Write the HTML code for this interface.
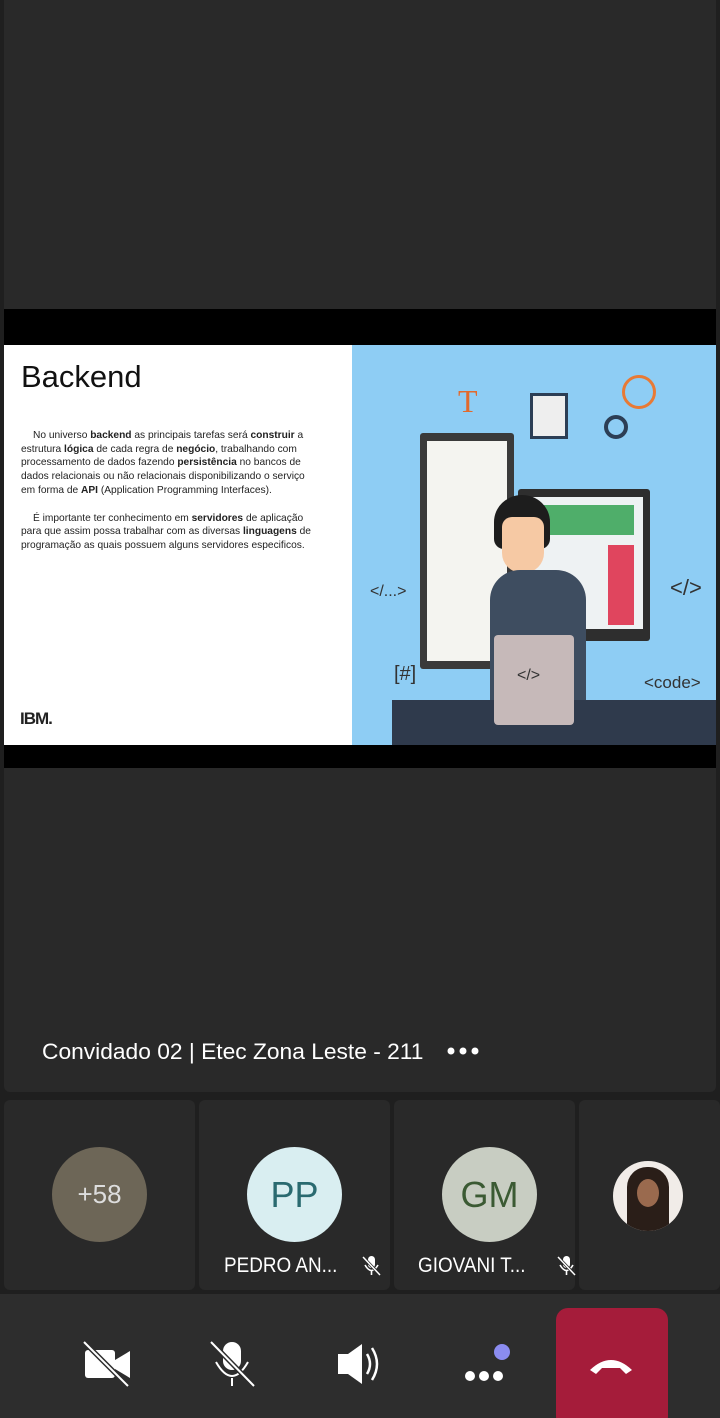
<!DOCTYPE html>
<html><head><meta charset="utf-8"><style>
body{margin:0;width:720px;height:1418px;background:#1f1f1f;position:relative;overflow:hidden;font-family:"Liberation Sans",sans-serif}
.a{position:absolute}
.stage{left:4px;top:0;width:712px;height:1092px;background:#292929;border-radius:0 0 6px 6px}
.tile{top:1100px;height:190px;background:#292929;border-radius:6px}
.av{border-radius:50%;width:95px;height:95px;top:1147px;text-align:center;line-height:95px;font-size:36px}
.nm{top:1254px;color:#fff;font-size:21px;transform:scaleX(.9);transform-origin:left}
.slide p{margin:0 0 14px;text-indent:12px;font-size:10.2px;line-height:13.7px;color:#222}
</style></head><body>
<div class="a stage"></div>
<div class="a" style="left:4px;top:309px;width:712px;height:459px;background:#000"></div>
<div class="a slide" style="left:4px;top:345px;width:348px;height:400px;background:#fff">
 <div class="a" style="left:17px;top:14px;font-size:31px;color:#111">Backend</div>
 <div class="a" style="left:17px;top:84px;width:300px">
 <p>No universo <b>backend</b> as principais tarefas será <b>construir</b> a estrutura <b>lógica</b> de cada regra de <b>negócio</b>, trabalhando com processamento de dados fazendo <b>persistência</b> no bancos de dados relacionais ou não relacionais disponibilizando o serviço em forma de <b>API</b> (Application Programming Interfaces).</p>
 <p>É importante ter conhecimento em <b>servidores</b> de aplicação para que assim possa trabalhar com as diversas <b>linguagens</b> de programação as quais possuem alguns servidores especificos.</p>
 </div>
 <div class="a" style="left:16px;top:364px;font-size:17px;font-weight:bold;color:#222;letter-spacing:-1px">IBM.</div>
</div>
<div class="a" style="left:352px;top:345px;width:364px;height:400px;background:#8ecdf4;overflow:hidden">
 <div class="a" style="left:40px;top:355px;width:330px;height:50px;background:#2f3a4c"></div>
 <div class="a" style="left:68px;top:88px;width:94px;height:236px;background:#3a3a3a;border-radius:3px"></div>
 <div class="a" style="left:75px;top:96px;width:80px;height:220px;background:#f4f4f0"></div>
 <div class="a" style="left:166px;top:144px;width:132px;height:152px;background:#2e2e2e;border-radius:3px"></div>
 <div class="a" style="left:173px;top:152px;width:118px;height:132px;background:#eef2f3"></div>
 <div class="a" style="left:190px;top:160px;width:92px;height:30px;background:#4fae6a"></div>
 <div class="a" style="left:256px;top:200px;width:26px;height:80px;background:#e0455e"></div>
 <div class="a" style="left:142px;top:150px;width:56px;height:54px;background:#1d1d1d;border-radius:50% 50% 10px 10px"></div>
 <div class="a" style="left:150px;top:172px;width:42px;height:56px;background:#f6c9a4;border-radius:10px 10px 20px 20px"></div>
 <div class="a" style="left:138px;top:225px;width:96px;height:130px;background:#3e4d60;border-radius:30px 30px 0 0"></div>
 <div class="a" style="left:142px;top:290px;width:80px;height:90px;background:#c6b9b9;border-radius:4px"></div>
 <div class="a" style="left:165px;top:322px;font-size:16px;color:#333">&lt;/&gt;</div>
 <div class="a" style="left:18px;top:238px;font-size:16px;color:#333">&lt;/...&gt;</div>
 <div class="a" style="left:318px;top:230px;font-size:22px;color:#333">&lt;/&gt;</div>
 <div class="a" style="left:292px;top:328px;font-size:17px;color:#333">&lt;code&gt;</div>
 <div class="a" style="left:42px;top:318px;font-size:20px;color:#333">[#]</div>
 <div class="a" style="left:106px;top:38px;font-size:32px;color:#e26a2c;font-family:'Liberation Serif',serif">T</div>
 <div class="a" style="left:178px;top:48px;width:32px;height:40px;border:3px solid #2c3e55;background:#eee"></div>
 <div class="a" style="left:270px;top:30px;width:28px;height:28px;border:3px solid #e87a35;border-radius:50%"></div>
 <div class="a" style="left:252px;top:70px;width:16px;height:16px;border:4px solid #2c3e55;border-radius:50%"></div>
</div>
<div class="a" style="left:42px;top:1039px;color:#fff;font-size:22px;transform:scaleX(1.035);transform-origin:left">Convidado 02 | Etec Zona Leste - 211</div>
<svg class="a" style="left:445px;top:1042px" width="36" height="18"><circle cx="6" cy="9" r="3.5" fill="#fff"/><circle cx="18" cy="9" r="3.5" fill="#fff"/><circle cx="30" cy="9" r="3.5" fill="#fff"/></svg>
<div class="a tile" style="left:4px;width:191px"></div>
<div class="a tile" style="left:199px;width:191px"></div>
<div class="a tile" style="left:394px;width:181px"></div>
<div class="a tile" style="left:579px;width:141px"></div>
<div class="a av" style="left:52px;background:#6d6657;color:#ddd;font-size:26px">+58</div>
<div class="a av" style="left:247px;background:#d9eef1;color:#2a6a70">PP</div>
<div class="a av" style="left:442px;background:#c8cdc2;color:#3b5a33">GM</div>
<div class="a" style="left:613px;top:1161px;width:70px;height:70px;border-radius:50%;background:#f1ece8;overflow:hidden"><div class="a" style="left:14px;top:6px;width:42px;height:64px;background:#2a1e18;border-radius:20px 20px 0 0"></div><div class="a" style="left:24px;top:18px;width:22px;height:28px;background:#9a6a4e;border-radius:50%"></div></div>
<div class="a nm" style="left:224px">PEDRO AN...</div>
<div class="a nm" style="left:418px">GIOVANI T...</div>
<svg class="a" style="left:360px;top:1254px" width="24" height="24"><rect x="8" y="2" width="7" height="12" rx="3.5" fill="#fff"/><path d="M5 11 Q11.5 22 18 11" stroke="#fff" stroke-width="1.6" fill="none"/><line x1="11.5" y1="17" x2="11.5" y2="21" stroke="#fff" stroke-width="1.6"/><line x1="3" y1="3" x2="20" y2="21" stroke="#292929" stroke-width="3"/><line x1="3" y1="3" x2="20" y2="21" stroke="#fff" stroke-width="1.5"/></svg>
<svg class="a" style="left:555px;top:1254px" width="24" height="24"><rect x="8" y="2" width="7" height="12" rx="3.5" fill="#fff"/><path d="M5 11 Q11.5 22 18 11" stroke="#fff" stroke-width="1.6" fill="none"/><line x1="11.5" y1="17" x2="11.5" y2="21" stroke="#fff" stroke-width="1.6"/><line x1="3" y1="3" x2="20" y2="21" stroke="#292929" stroke-width="3"/><line x1="3" y1="3" x2="20" y2="21" stroke="#fff" stroke-width="1.5"/></svg>
<div class="a" style="left:0;top:1294px;width:720px;height:124px;background:#2d2d2d"></div>
<svg class="a" style="left:0;top:1294px" width="720" height="124">
 <rect x="85" y="56" width="30" height="28" rx="3" fill="#fff"/><path d="M115 66 L130 57 V84 L115 75Z" fill="#fff"/><line x1="84" y1="48" x2="128" y2="92" stroke="#2d2d2d" stroke-width="5"/><line x1="84" y1="48" x2="128" y2="92" stroke="#fff" stroke-width="2"/>
 <rect x="223" y="48" width="18" height="28" rx="9" fill="#fff"/><path d="M216 68 Q232 96 248 68" stroke="#fff" stroke-width="2" fill="none"/><line x1="232" y1="84" x2="232" y2="92" stroke="#fff" stroke-width="2"/><line x1="211" y1="48" x2="254" y2="92" stroke="#2d2d2d" stroke-width="5"/><line x1="211" y1="48" x2="254" y2="92" stroke="#fff" stroke-width="2"/>
 <path d="M338 60 H348 L362 50 V90 L348 80 H338Z" fill="#fff"/><path d="M367 60 Q373 70 367 80 M372 54 Q382 70 372 86" stroke="#fff" stroke-width="2.5" fill="none"/>
 <circle cx="470" cy="82" r="5" fill="#fff"/><circle cx="484" cy="82" r="5" fill="#fff"/><circle cx="498" cy="82" r="5" fill="#fff"/><circle cx="502" cy="58" r="8" fill="#8b8cf0"/>
 <rect x="556" y="14" width="112" height="120" rx="12" fill="#a51c3a"/><path d="M590 76 Q611 56 632 76 L626 80 L620 74 H602 L596 80Z" fill="#fff"/>
</svg>
</body></html>
